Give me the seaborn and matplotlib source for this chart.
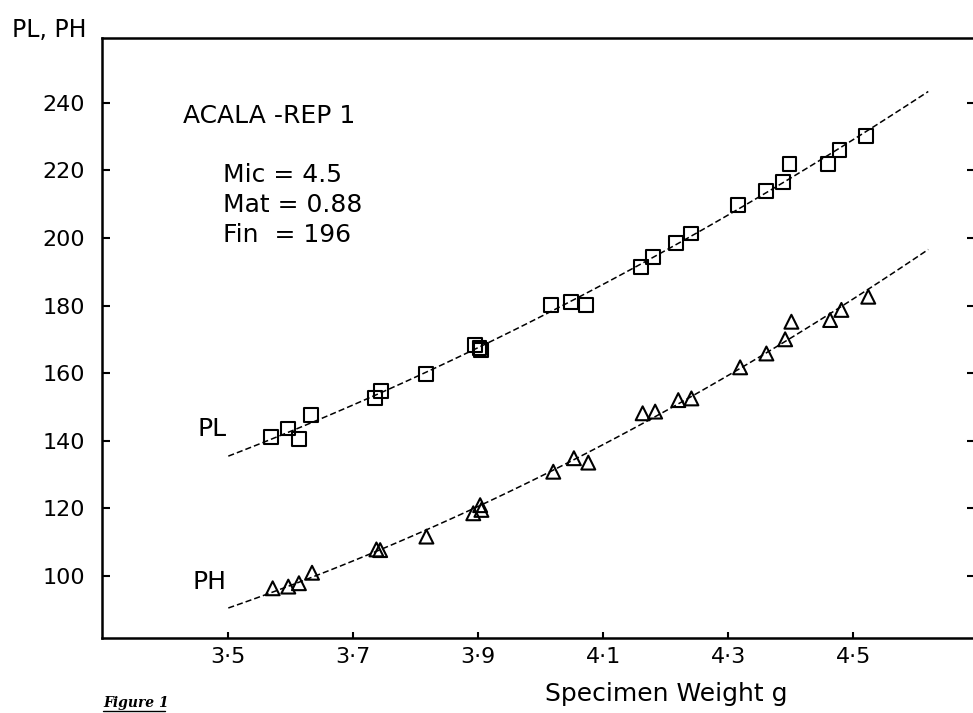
import matplotlib
matplotlib.use('Agg')
import matplotlib.pyplot as plt
import pandas as pd
import seaborn as sns

# Values
pl_weight = [3.568, 3.596, 3.613, 3.633, 3.735, 3.745, 3.817, 3.895, 3.902, 3.905,
             4.017, 4.049, 4.073, 4.161, 4.180, 4.216, 4.240, 4.316, 4.361, 4.387,
             4.398, 4.459, 4.478, 4.521]
pl_value = [141.2, 143.6, 140.5, 147.6, 152.5, 154.8, 159.7, 168.3, 167.5, 166.8,
            180.1, 181.1, 180.1, 191.5, 194.4, 198.4, 201.3, 209.7, 213.9, 216.6,
            221.9, 221.9, 226.0, 230.1]
ph_weight = [3.571, 3.596, 3.613, 3.634, 3.737, 3.743, 3.817, 3.892, 3.903, 3.905,
             4.020, 4.053, 4.076, 4.163, 4.183, 4.220, 4.241, 4.319, 4.361, 4.391,
             4.401, 4.463, 4.481, 4.524]
ph_value = [96.3, 96.8, 97.8, 100.9, 107.8, 107.6, 111.6, 118.5, 120.9, 119.5,
            130.8, 134.8, 133.5, 148.1, 148.6, 152.0, 152.5, 161.7, 165.8, 170.0,
            175.2, 175.7, 178.7, 182.6]

x_ticks = [3.5, 3.7, 3.9, 4.1, 4.3, 4.5]
x_tick_labels = ['3·5', '3·7', '3·9', '4·1', '4·3', '4·5']
y_ticks = [100, 120, 140, 160, 180, 200, 220, 240]
fit_range = (3.5, 4.62)
info_lines = ['Mic = 4.5', 'Mat = 0.88', 'Fin  = 196']

df_pl = pd.DataFrame({'weight': pl_weight, 'value': pl_value})
df_ph = pd.DataFrame({'weight': ph_weight, 'value': ph_value})

sns.set_style('ticks')
plt.rcParams['font.family'] = ['DejaVu Sans']
plt.rcParams['text.color'] = 'black'
plt.rcParams['axes.labelcolor'] = 'black'
plt.rcParams['xtick.color'] = 'black'
plt.rcParams['ytick.color'] = 'black'

fig = plt.figure(figsize=(9.73, 7.13), dpi=100)
ax = fig.add_axes([0.1045, 0.1048, 0.8975, 0.842])

# dashed quadratic fits over the drawn range
line_kws = dict(color='black', lw=1.1, ls=(0, (4, 2)))
ax.set_xlim(*fit_range)
for d in [df_pl, df_ph]:
    sns.regplot(data=d, x='weight', y='value', order=2, ci=None, scatter=False,
                truncate=False, line_kws=line_kws, ax=ax)

sns.scatterplot(data=df_pl, x='weight', y='value', marker='s', s=100,
                facecolor='none', edgecolor='black', linewidth=1.5, ax=ax, zorder=3)
sns.scatterplot(data=df_ph, x='weight', y='value', marker='^', s=100,
                facecolor='none', edgecolor='black', linewidth=1.5, ax=ax, zorder=3)

ax.set_xlim(3.2974, 4.6947)
ax.set_ylim(81.5, 259.2)
ax.set_xticks(x_ticks, labels=x_tick_labels)
ax.set_yticks(y_ticks)

for s in ax.spines.values():
    s.set_visible(True)
    s.set_linewidth(1.8)
    s.set_color('black')
ax.tick_params(axis='y', direction='in', length=6, width=1.5, labelsize=16,
               pad=12, right=True, left=True, colors='black')
ax.tick_params(axis='x', direction='in', length=4, width=1.5, labelsize=16, pad=6,
               colors='black')

ax.set_xlabel('Specimen Weight g', fontsize=18, color='black')
ax.xaxis.set_label_coords(0.647, -0.072)
ax.set_ylabel('PL, PH', fontsize=17, rotation=0, ha='left', va='center', color='black')
ax.yaxis.set_label_coords(-0.1027, 1.013)

ax.text(3.4275, 236.1, 'ACALA -REP 1', fontsize=18, va='center', color='black')
for i, line in enumerate(info_lines):
    ax.text(3.4915, 218.6 - i * 8.9, line, fontsize=18, va='center', color='black')
ax.text(3.450, 143.4, 'PL', fontsize=18, va='center', color='black')
ax.text(3.4435, 98.2, 'PH', fontsize=18, va='center', color='black')

fig.text(0.1059, 0.014, 'Figure 1', family='DejaVu Serif', style='italic',
         weight='bold', fontsize=10, va='center', color='black')
fig.add_artist(plt.Line2D([0.1059, 0.1696], [0.003, 0.003], color='black', lw=1,
                          transform=fig.transFigure))

plt.savefig('out.png', dpi=100)
